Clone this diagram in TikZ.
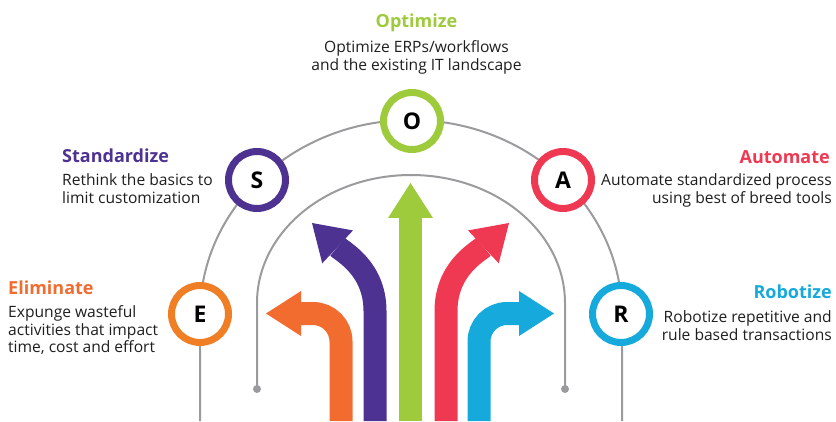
\documentclass[tikz,border=0pt]{standalone}
\usepackage{fontspec}
\setmainfont{Open Sans}
\usetikzlibrary{arrows.meta}
\definecolor{cOrange}{HTML}{F26B2F}
\definecolor{cOrangeRing}{HTML}{EF7E24}
\definecolor{cPurple}{HTML}{4D3291}
\definecolor{cGreen}{HTML}{9DCB3C}
\definecolor{cRed}{HTML}{EF3952}
\definecolor{cBlue}{HTML}{16AADC}
\definecolor{cGray}{HTML}{9B9B9E}
\definecolor{cText}{HTML}{1E1E1E}
\begin{document}
\begin{tikzpicture}[x=1pt,y=1pt,
  ring/.style={circle,draw=#1,line width=7pt,fill=white,minimum size=57pt,inner sep=0pt,
    font=\fontsize{23}{23}\selectfont\bfseries,text=black},
  guide/.style={draw=cGray,line width=2pt},
  bigarrow/.style={draw=#1,line width=23pt,
    -{Triangle[length=35pt 0,width=45pt 0,line width=0pt,fill=#1]}},
  title/.style={font=\fontsize{18}{18}\selectfont\bfseries,text=#1,inner sep=0pt},
  body/.style={font=\fontsize{15.6}{17}\selectfont,text=cText,inner sep=0pt}]
\useasboundingbox (0,0) rectangle (836,421);
% guide arcs
\draw[guide] (200,0) -- (200,106) arc[start angle=180,end angle=0,x radius=211pt,y radius=195pt] -- (622,0);
\draw[guide] (257,32) -- (257,118) arc[start angle=180,end angle=0,x radius=154pt,y radius=128pt] -- (565,32);
\coordinate (d1) at (257,32);
\coordinate (d2) at (565,32);
\fill[cGray] (d1) circle (4pt);
\fill[cGray] (d2) circle (4pt);
% arrows
\coordinate (g0) at (410.5,0);
\coordinate (g1) at (410.5,238);
\draw[bigarrow=cGreen] (g0) -- (g1);
\coordinate (p0) at (375,0);
\coordinate (p1) at (375,110);
\coordinate (p2) at (312,198);
\draw[bigarrow=cPurple] (p0) -- (p1) to[out=90,in=-43] (p2);
\coordinate (r0) at (446,0);
\coordinate (r1) at (446,110);
\coordinate (r2) at (509,198);
\draw[bigarrow=cRed] (r0) -- (r1) to[out=90,in=223] (r2);
\coordinate (o0) at (341,0);
\coordinate (o1) at (341,107.5);
\coordinate (o2) at (266,107.5);
\draw[bigarrow=cOrange,rounded corners=28pt] (o0) -- (o1) -- (o2);
\coordinate (b0) at (479,0);
\coordinate (b1) at (479,107.5);
\coordinate (b2) at (554,107.5);
\draw[bigarrow=cBlue,rounded corners=28pt] (b0) -- (b1) -- (b2);
% rings
\node[ring=cOrangeRing] (E) at (200,107) {E};
\node[ring=cPurple] (S) at (257,241) {S};
\node[ring=cGreen] (O) at (412,300) {O};
\node[ring=cRed] (A) at (563,241) {A};
\node[ring=cBlue] (R) at (621,107) {R};
% texts
\node[title=cGreen,anchor=base] (tO) at (416.5,393) {Optimize};
\node[body,anchor=base] (tO1) at (416.5,368) {Optimize ERPs/workflows};
\node[body,anchor=base] (tO2) at (416.5,350.5) {and the existing IT landscape};
\node[title=cPurple,anchor=base west] (tS) at (62,258) {Standardize};
\node[body,anchor=base west] (tS1) at (62,235) {Rethink the basics to};
\node[body,anchor=base west] (tS2) at (62,217) {limit customization};
\node[title=cRed,anchor=base east] (tA) at (830,257) {Automate};
\node[body,anchor=base east] (tA1) at (832,235) {Automate standardized process};
\node[body,anchor=base east] (tA2) at (832,217) {using best of breed tools};
\node[title=cOrange,anchor=base west] (tE) at (8,127) {Eliminate};
\node[body,anchor=base west] (tE1) at (8,104) {Expunge wasteful};
\node[body,anchor=base west] (tE2) at (8,86) {activities that impact};
\node[body,anchor=base west] (tE3) at (8,69) {time, cost and effort};
\node[title=cBlue,anchor=base east] (tR) at (832,123) {Robotize};
\node[body,anchor=base east] (tR1) at (832,99) {Robotize repetitive and};
\node[body,anchor=base east] (tR2) at (832,81) {rule based transactions};
\end{tikzpicture}
\end{document}
